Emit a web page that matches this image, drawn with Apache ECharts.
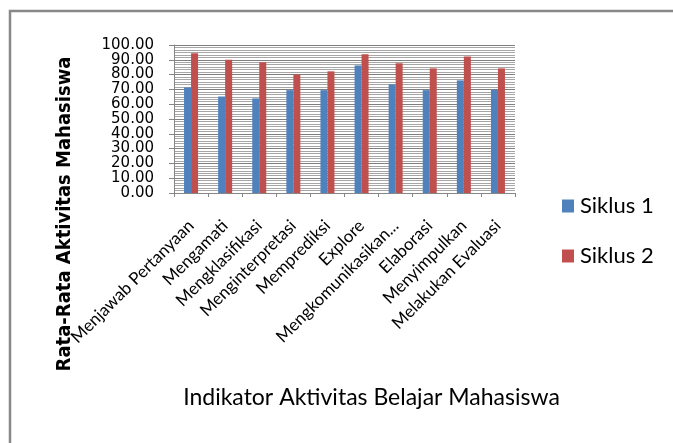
<!DOCTYPE html>
<html>
<head>
<meta charset="utf-8">
<script src="https://cdn.jsdelivr.net/npm/echarts@6/dist/echarts.min.js"></script>
<style>
html,body{margin:0;padding:0;background:#fff;}
#chart{width:673px;height:443px;}
</style>
</head>
<body>
<div id="chart"></div>
<script>
const categories = ["Menjawab Pertanyaan", "Mengamati", "Mengklasifikasi", "Menginterpretasi", "Memprediksi", "Explore", "Mengkomunikasikan...", "Elaborasi", "Menyimpulkan", "Melakukan Evaluasi"];
const seriesNames = ["Siklus 1", "Siklus 2"];
const siklus1 = [71.3, 65.2, 63.9, 69.5, 69.5, 86.2, 73.4, 69.5, 76.1, 69.8];
const siklus2 = [94.4, 90.1, 88.3, 80.1, 82.2, 93.7, 87.6, 84.2, 92.3, 84.2];
const yTickLabels = ["0.00", "10.00", "20.00", "30.00", "40.00", "50.00", "60.00", "70.00", "80.00", "90.00", "100.00"];
const yMin = 0, yMax = 100, yStep = 10;
const xTitle = "Indikator Aktivitas Belajar Mahasiswa";
const yTitle = "Rata-Rata Aktivitas Mahasiswa";

const chart = echarts.init(document.getElementById('chart'), null, {renderer: 'canvas'});
const calibri = "Lato, 'Open Sans', sans-serif";
chart.setOption({
  animation: false,
  backgroundColor: '#fff',
  grid: {left: 174, right: 158, top: 45, bottom: 250, containLabel: false},
  legend: {
    orient: 'vertical', left: 557, top: 190,
    itemWidth: 12, itemHeight: 13, itemGap: 28, icon: 'rect',
    textStyle: {fontFamily: calibri, fontSize: 22, color: '#000', lineHeight: 22, padding: [0,0,0,1]},
    data: seriesNames
  },
  xAxis: {
    type: 'category', data: categories,
    axisLine: {lineStyle: {color: '#868686', width: 1}},
    axisTick: {show: true, length: 4, lineStyle: {color: '#868686'}},
    axisLabel: {rotate: 45, margin: 30, interval: 0, fontFamily: calibri, fontSize: 17, color: '#000'}
  },
  yAxis: [{
    type: 'value', min: yMin, max: yMax, interval: yStep, position: 'left',
    axisLine: {show: true, lineStyle: {color: '#868686', width: 1}},
    axisTick: {show: true, length: 5, lineStyle: {color: '#868686'}},
    axisLabel: {show: false},
    splitLine: {show: true, lineStyle: {color: '#7f7f7f', width: 1}},
    minorTick: {show: true, splitNumber: 6, length: 0},
    minorSplitLine: {show: true, lineStyle: {color: '#a6a6a6', width: 1}}
  }, {
    type: 'category', data: yTickLabels, boundaryGap: false, position: 'left', offset: 0,
    axisLine: {show: false}, axisTick: {show: false}, splitLine: {show: false},
    axisLabel: {interval: 0, margin: 20, fontFamily: "'DejaVu Sans', Verdana, sans-serif", fontSize: 15, color: '#000'}
  }],
  series: [
    {name: seriesNames[0], type: 'bar', data: siklus1, barWidth: 7, barGap: '0%', yAxisIndex: 0,
     itemStyle: {color: '#4F81BD'}},
    {name: seriesNames[1], type: 'bar', data: siklus2, barWidth: 7, barGap: '0%', yAxisIndex: 0,
     itemStyle: {color: '#C0504D'}}
  ],
  graphic: [
    {type: 'rect', shape: {x: 10, y: 11, width: 700, height: 480}, silent: true,
     style: {fill: 'none', stroke: '#888', lineWidth: 2.5}, z: -10},
    {type: 'text', x: 65, y: 214, rotation: Math.PI / 2,
     style: {text: yTitle, align: 'center', verticalAlign: 'middle',
       font: "bold 20px 'DejaVu Sans Condensed', 'Liberation Sans Narrow', sans-serif", fill: '#000'}},
    {type: 'text', x: 371.5, y: 398,
     style: {text: xTitle, align: 'center', verticalAlign: 'middle',
       font: "23px Lato, 'Open Sans', sans-serif", fill: '#000'}}
  ]
});
</script>
</body>
</html>
